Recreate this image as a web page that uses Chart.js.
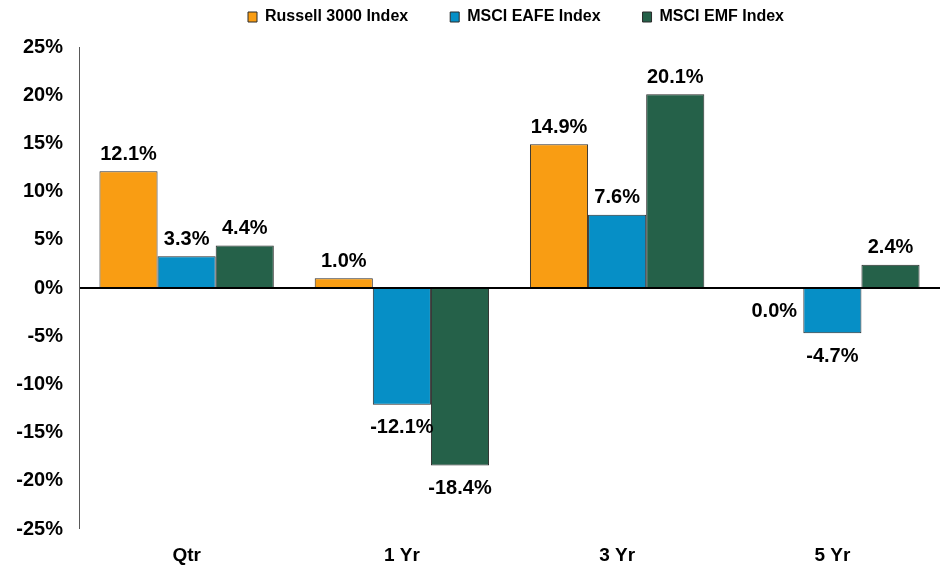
<!DOCTYPE html>
<html>
<head>
<meta charset="utf-8">
<script src="https://cdn.jsdelivr.net/npm/chart.js@4"></script>
<style>
  html, body { margin: 0; padding: 0; background: #ffffff; }
  #wrap { width: 945px; height: 569px; position: relative; }
</style>
</head>
<body>
<div id="wrap"><canvas id="c" width="945" height="569"></canvas></div>
<script>
const categories = ['Qtr', '1 Yr', '3 Yr', '5 Yr'];
const russell3000 = [12.1, 1.0, 14.9, 0.0];
const msciEafe = [3.3, -12.1, 7.6, -4.7];
const msciEmf = [4.4, -18.4, 20.1, 2.4];
const seriesNames = ['Russell 3000 Index', 'MSCI EAFE Index', 'MSCI EMF Index'];
const yTicks = [-25, -20, -15, -10, -5, 0, 5, 10, 15, 20, 25];

const FONT = '"Liberation Sans", Arial, sans-serif';

const dataLabels = {
  id: 'dataLabels',
  afterDatasetsDraw(chart) {
    const ctx = chart.ctx;
    ctx.save();
    ctx.font = 'bold 20px ' + FONT;
    ctx.fillStyle = '#000';
    ctx.textAlign = 'center';
    ctx.textBaseline = 'middle';
    chart.data.datasets.forEach((ds, di) => {
      const meta = chart.getDatasetMeta(di);
      meta.data.forEach((el, i) => {
        const v = ds.data[i];
        const txt = v.toFixed(1) + '%';
        const y = v > 0 ? el.y - 17 : el.y + 23;
        ctx.fillText(txt, el.x, y);
      });
    });
    ctx.restore();
  }
};

const legendShift = {
  id: 'legendShift',
  afterLayout(chart) {
    const lg = chart.legend;
    if (!lg) return;
    lg.left += 46; lg.right += 46;
    lg.top -= 33;
  }
};

new Chart(document.getElementById('c'), {
  type: 'bar',
  data: {
    labels: categories,
    datasets: [
      { label: seriesNames[0], data: russell3000, backgroundColor: '#F99D13', borderColor: '#2b2b2b', borderWidth: 1 },
      { label: seriesNames[1], data: msciEafe, backgroundColor: '#068FC6', borderColor: '#2b2b2b', borderWidth: 1 },
      { label: seriesNames[2], data: msciEmf, backgroundColor: '#256149', borderColor: '#2b2b2b', borderWidth: 1 }
    ]
  },
  options: {
    responsive: false,
    animation: false,
    devicePixelRatio: 1,
    layout: { padding: { top: 0, right: 5, bottom: 0, left: 0 } },
    datasets: { bar: { categoryPercentage: 0.81, barPercentage: 1.0 } },
    plugins: {
      tooltip: { enabled: false },
      legend: {
        position: 'top',
        maxHeight: 47,
        labels: {
          boxWidth: 9,
          boxHeight: 10,
          padding: 42,
          color: '#000',
          font: { family: FONT, size: 16, weight: 'bold' }
        }
      }
    },
    scales: {
      x: {
        grid: { display: false },
        border: { display: false },
        afterFit(s) { s.height = 40; },
        ticks: { color: '#000', padding: 7, maxRotation: 0, font: { family: FONT, size: 19, weight: 'bold' } }
      },
      y: {
        min: yTicks[0],
        max: yTicks[yTicks.length - 1],
        afterFit(s) { s.width = 79; },
        afterBuildTicks(s) { s.ticks = yTicks.map(v => ({ value: v })); },
        border: { display: true, color: '#595959', width: 1 },
        grid: {
          drawTicks: false,
          color: c => (c.tick && c.tick.value === 0 ? '#000' : 'rgba(0,0,0,0)'),
          lineWidth: c => (c.tick && c.tick.value === 0 ? 2 : 0)
        },
        ticks: {
          color: '#000',
          padding: 16,
          font: { family: FONT, size: 20, weight: 'bold' },
          callback: v => v + '%'
        }
      }
    }
  },
  plugins: [dataLabels, legendShift]
});
</script>
</body>
</html>
